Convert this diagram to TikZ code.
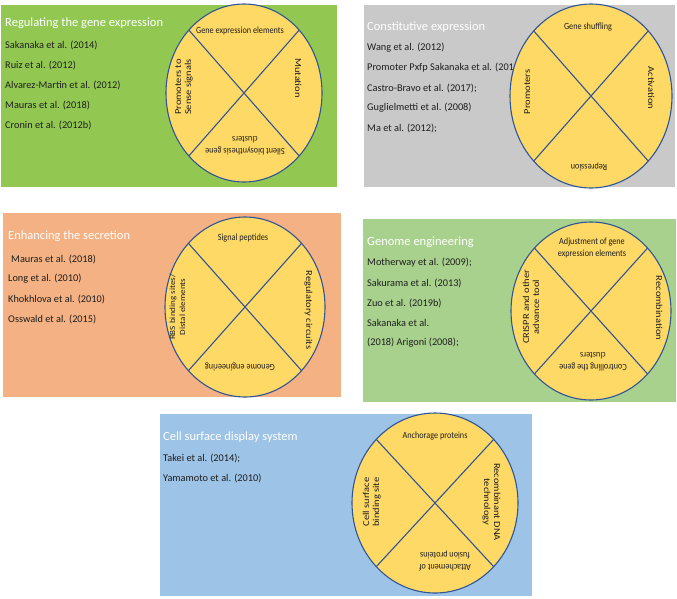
\documentclass[tikz,border=0pt]{standalone}
\usepackage{fontspec}
\usepackage{graphicx}
\setmainfont{Carlito}
\usetikzlibrary{shapes.geometric}
\definecolor{pgreen}{RGB}{146,200,82}
\definecolor{pgray}{RGB}{201,201,201}
\definecolor{porange}{RGB}{244,177,131}
\definecolor{plgreen}{RGB}{169,209,142}
\definecolor{pblue}{RGB}{157,195,230}
\definecolor{cfill}{RGB}{255,217,102}
\definecolor{cline}{RGB}{47,85,151}
\definecolor{reftext}{RGB}{30,30,30}
\newcommand{\alongtext}[1]{\scalebox{1.15}[1]{\begin{tabular}{@{}c@{}}#1\end{tabular}}}
\newcommand{\talltext}[1]{\scalebox{1}[1.15]{\begin{tabular}{@{}c@{}}#1\end{tabular}}}
\begin{document}
\begin{tikzpicture}[x=1pt,y=-1pt,
 ttl/.style={anchor=west, text=white, font=\fontsize{12.5}{14}\selectfont, inner sep=0},
 ref/.style={anchor=west, text=reftext, font=\fontsize{10.3}{12}\selectfont, inner sep=0},
 wheel/.style={ellipse, draw=cline, line width=1.1pt, fill=cfill, inner sep=0, outer sep=0},
 hlbl/.style={text=reftext, font=\fontsize{8.2}{10.3}\selectfont, inner sep=0},
 vlbl/.style={text=reftext, font=\fontsize{9.1}{10}\selectfont, inner sep=0},
 spoke/.style={draw=cline, line width=1.1pt}]
\useasboundingbox (0,0) rectangle (677,598);
% panels
\fill[pgreen] (1,5) rectangle (337,187);
\fill[pgray] (364,5) rectangle (675,187);
\fill[porange] (3,213) rectangle (341,397);
\fill[plgreen] (363,219) rectangle (676,402);
\fill[pblue] (160,414) rectangle (532,596);
% panel 1 text
\node[ttl] (t1) at (5,23) {Regulating the gene expression};
\node[ref] (r11) at (5,45) {Sakanaka et al. (2014)};
\node[ref] (r12) at (5,65) {Ruiz et al. (2012)};
\node[ref] (r13) at (5,85) {Alvarez-Martin et al. (2012)};
\node[ref] (r14) at (5,105) {Mauras et al. (2018)};
\node[ref] (r15) at (5,125) {Cronin et al. (2012b)};
% panel 2 text
\node[ttl] (t2) at (367,27) {Constitutive expression};
\node[ref] (r21) at (367,48) {Wang et al. (2012)};
\node[ref] (r22) at (367,68) {Promoter Pxfp Sakanaka et al. (201};
\node[ref] (r23) at (367,88) {Castro-Bravo et al. (2017);};
\node[ref] (r24) at (367,108) {Guglielmetti et al. (2008)};
\node[ref] (r25) at (367,128) {Ma et al. (2012);};
% panel 3 text
\node[ttl] (t3) at (8,236) {Enhancing the secretion};
\node[ref] (r31) at (11,259) {Mauras et al. (2018)};
\node[ref] (r32) at (8,279) {Long et al. (2010)};
\node[ref] (r33) at (8,299) {Khokhlova et al. (2010)};
\node[ref] (r34) at (8,319) {Osswald et al. (2015)};
% panel 4 text
\node[ttl] (t4) at (367,242) {Genome engineering};
\node[ref] (r41) at (367,263) {Motherway et al. (2009);};
\node[ref] (r42) at (367,283) {Sakurama et al. (2013)};
\node[ref] (r43) at (367,303) {Zuo et al. (2019b)};
\node[ref] (r44) at (367,323) {Sakanaka et al.};
\node[ref] (r45) at (367,343) {(2018) Arigoni (2008);};
% panel 5 text
\node[ttl] (t5) at (163,437) {Cell surface display system};
\node[ref] (r51) at (163,458) {Takei et al. (2014);};
\node[ref] (r52) at (163,478) {Yamamoto et al. (2010)};
% wheels
\node[wheel, minimum width=156pt, minimum height=178pt] (w1) at (244,93) {};
\node[wheel, minimum width=162pt, minimum height=184pt] (w2) at (591,96) {};
\node[wheel, minimum width=160pt, minimum height=180pt] (w3) at (245,307) {};
\node[wheel, minimum width=160pt, minimum height=178pt] (w4) at (591,311) {};
\node[wheel, minimum width=166pt, minimum height=180pt] (w5) at (435,503) {};
\foreach \w in {w1,w2,w3,w4,w5}{
  \draw[spoke] (\w.north west) -- (\w.south east);
  \draw[spoke] (\w.north east) -- (\w.south west);
}
% wheel 1 labels
\node[hlbl] (l11) at (240,31) {\talltext{Gene expression elements}};
\node[vlbl, rotate=-90] (l12) at (297,78) {\alongtext{Mutation}};
\node[vlbl, rotate=90] (l13) at (184,87) {\alongtext{Promoters to\\Sense signals}};
\node[hlbl, rotate=180] (l14) at (245,145) {\talltext{Silent biosynthesis gene\\clusters}};
% wheel 2 labels
\node[hlbl] (l21) at (588,27) {\talltext{Gene shuffling}};
\node[vlbl, rotate=-90] (l22) at (650,88) {\alongtext{Activation}};
\node[vlbl, rotate=90] (l23) at (528,92) {\alongtext{Promoters}};
\node[hlbl, rotate=180] (l24) at (589,167) {\talltext{Repression}};
% wheel 3 labels
\node[hlbl] (l31) at (243,238) {\talltext{Signal peptides}};
\node[vlbl, rotate=-90] (l32) at (308,310) {\alongtext{Regulatory circuits}};
\node[vlbl, rotate=90, font=\fontsize{7.9}{10}\selectfont] (l33) at (178,307) {\alongtext{RBS binding sites/\\Distal elements}};
\node[hlbl, rotate=180] (l34) at (240,367) {\talltext{Genome engineering}};
% wheel 4 labels
\node[hlbl] (l41) at (592,248) {\talltext{Adjustment of gene\\expression elements}};
\node[vlbl, rotate=-90] (l42) at (658,308) {\alongtext{Recombination}};
\node[vlbl, rotate=90] (l43) at (532,307) {\alongtext{CRISPR and other\\advance tool}};
\node[hlbl, rotate=180] (l44) at (593,361) {\talltext{Controlling the gene\\clusters}};
% wheel 5 labels
\node[hlbl] (l51) at (435,436) {\talltext{Anchorage proteins}};
\node[vlbl, rotate=-90] (l52) at (491,502) {\alongtext{Recombinant DNA\\technology}};
\node[vlbl, rotate=90] (l53) at (372,502) {\alongtext{Cell surface\\binding site}};
\node[hlbl, rotate=180] (l54) at (445,561) {\talltext{Attachement of\\fusion proteins}};
\end{tikzpicture}
\end{document}
